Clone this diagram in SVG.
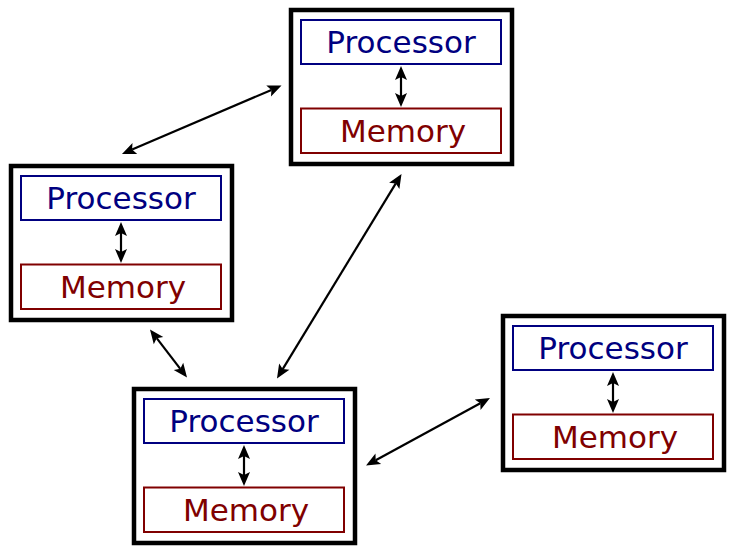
<svg xmlns="http://www.w3.org/2000/svg" width="734" height="556" viewBox="0 0 734 556">
<style>
.outer{fill:#fff;stroke:#000;stroke-width:4.5}
.proc{fill:#fff;stroke:#000080;stroke-width:2}
.mem{fill:#fff;stroke:#800000;stroke-width:2}
.pt{fill:#000080;font-family:"DejaVu Sans",sans-serif;font-size:31px;text-anchor:middle}
.mt{fill:#800000;font-family:"DejaVu Sans",sans-serif;font-size:31px;text-anchor:middle}
.link{stroke:#000;stroke-width:2.2;fill:none;marker-start:url(#ah);marker-end:url(#ah)}
</style>
<defs>
<marker id="ah" markerUnits="userSpaceOnUse" viewBox="-1 -7 16 14" markerWidth="16" markerHeight="14" refX="3" refY="0" orient="auto-start-reverse">
<path d="M0,-6 L14,0 L0,6 L3,0 Z" fill="#000"/>
</marker>
</defs>
<rect width="734" height="556" fill="#fff"/>
<g id="connectors">
<line class="link" x1="132.1" y1="149.6" x2="271.4" y2="89.9"/>
<line class="link" x1="395.8" y1="183.4" x2="282.7" y2="369.1"/>
<line class="link" x1="156.7" y1="338.2" x2="180.3" y2="368.8"/>
<line class="link" x1="375.7" y1="460.2" x2="480.3" y2="403.3"/>
</g>
<g id="node-top" transform="translate(291,10)">
<rect class="outer" x="0" y="0" width="221" height="154"/>
<rect class="proc" x="10" y="10" width="200" height="44"/>
<rect class="mem" x="10" y="98.5" width="200" height="44.5"/>
<line class="link" x1="110" y1="67" x2="110" y2="86"/>
<text class="pt" x="110" y="43">Processor</text>
<text class="mt" x="112" y="132">Memory</text>
</g>
<g id="node-left" transform="translate(11,166)">
<rect class="outer" x="0" y="0" width="221" height="154"/>
<rect class="proc" x="10" y="10" width="200" height="44"/>
<rect class="mem" x="10" y="98.5" width="200" height="44.5"/>
<line class="link" x1="110" y1="67" x2="110" y2="86"/>
<text class="pt" x="110" y="43">Processor</text>
<text class="mt" x="112" y="132">Memory</text>
</g>
<g id="node-bottom" transform="translate(134,389)">
<rect class="outer" x="0" y="0" width="221" height="154"/>
<rect class="proc" x="10" y="10" width="200" height="44"/>
<rect class="mem" x="10" y="98.5" width="200" height="44.5"/>
<line class="link" x1="110" y1="67" x2="110" y2="86"/>
<text class="pt" x="110" y="43">Processor</text>
<text class="mt" x="112" y="132">Memory</text>
</g>
<g id="node-right" transform="translate(503,316)">
<rect class="outer" x="0" y="0" width="221" height="154"/>
<rect class="proc" x="10" y="10" width="200" height="44"/>
<rect class="mem" x="10" y="98.5" width="200" height="44.5"/>
<line class="link" x1="110" y1="67" x2="110" y2="86"/>
<text class="pt" x="110" y="43">Processor</text>
<text class="mt" x="112" y="132">Memory</text>
</g>
</svg>
